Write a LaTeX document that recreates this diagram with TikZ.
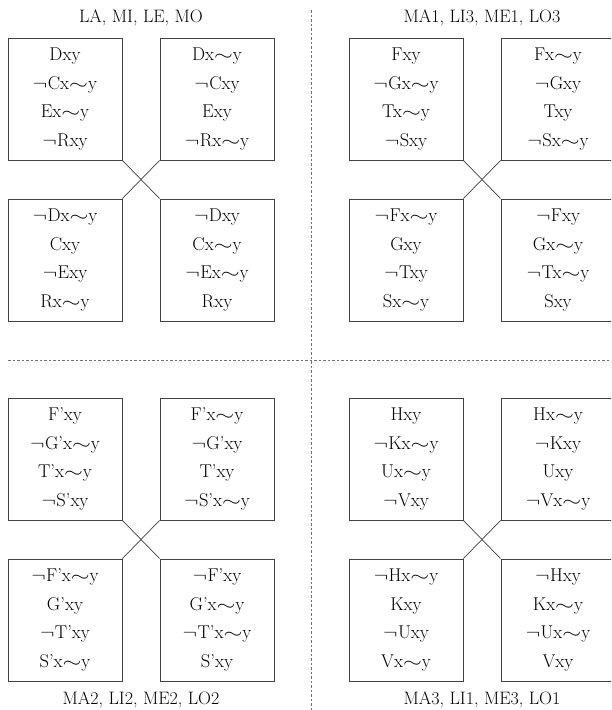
\documentclass[tikz,border=0pt]{standalone}
\usepackage{tikz}
\usepackage{graphicx}
\newcommand\mysim{\scalebox{1.4}[1]{$\sim$}}
\newcommand\mynot{\scalebox{1.25}[1]{$\neg$}\kern0.5pt}
\begin{document}
\begin{tikzpicture}[x=1pt,y=-1pt,
  cell/.style={draw=black!75,line width=0.8pt,minimum width=114pt,minimum height=122pt,inner sep=0pt,
    align=center,font=\fontsize{18.5}{28.5}\selectfont},
  ttl/.style={font=\fontsize{18}{22}\selectfont,inner sep=0pt},
  crossline/.style={draw=black!75,line width=0.7pt},
  sep/.style={draw=black!55,line width=0.8pt,dash pattern=on 2.5pt off 2pt}]
\clip (0,0) rectangle (611,710);
\fill[white] (0,0) rectangle (611,710);
% separators
\coordinate (vt) at (311,10);
\coordinate (vb) at (311,710);
\coordinate (hl) at (8,360);
\coordinate (hr) at (609,360);
\draw[sep] (vt) -- (vb);
\draw[sep] (hl) -- (hr);
% ---------- quadrant 1 ----------
\node[ttl] (t1) at (141,18) {LA, MI, LE, MO};
\node[cell] (a1) at (65,99) {Dxy\\\mynot Cx\mysim y\\Ex\mysim y\\\mynot Rxy};
\node[cell] (b1) at (217,99) {Dx\mysim y\\\mynot Cxy\\Exy\\\mynot Rx\mysim y};
\node[cell] (c1) at (65,260) {\mynot Dx\mysim y\\Cxy\\\mynot Exy\\Rx\mysim y};
\node[cell] (d1) at (217,260) {\mynot Dxy\\Cx\mysim y\\\mynot Ex\mysim y\\Rxy};
\draw[crossline] (a1.south east) -- (d1.north west);
\draw[crossline] (b1.south west) -- (c1.north east);
% ---------- quadrant 2 ----------
\node[ttl] (t2) at (482,18) {MA1, LI3, ME1, LO3};
\node[cell] (a2) at (406,99) {Fxy\\\mynot Gx\mysim y\\Tx\mysim y\\\mynot Sxy};
\node[cell] (b2) at (558,99) {Fx\mysim y\\\mynot Gxy\\Txy\\\mynot Sx\mysim y};
\node[cell] (c2) at (406,260) {\mynot Fx\mysim y\\Gxy\\\mynot Txy\\Sx\mysim y};
\node[cell] (d2) at (558,260) {\mynot Fxy\\Gx\mysim y\\\mynot Tx\mysim y\\Sxy};
\draw[crossline] (a2.south east) -- (d2.north west);
\draw[crossline] (b2.south west) -- (c2.north east);
% ---------- quadrant 3 ----------
\node[cell] (a3) at (65,459) {F'xy\\\mynot G'x\mysim y\\T'x\mysim y\\\mynot S'xy};
\node[cell] (b3) at (217,459) {F'x\mysim y\\\mynot G'xy\\T'xy\\\mynot S'x\mysim y};
\node[cell] (c3) at (65,620) {\mynot F'x\mysim y\\G'xy\\\mynot T'xy\\S'x\mysim y};
\node[cell] (d3) at (217,620) {\mynot F'xy\\G'x\mysim y\\\mynot T'x\mysim y\\S'xy};
\draw[crossline] (a3.south east) -- (d3.north west);
\draw[crossline] (b3.south west) -- (c3.north east);
\node[ttl] (t3) at (141,700) {MA2, LI2, ME2, LO2};
% ---------- quadrant 4 ----------
\node[cell] (a4) at (406,459) {Hxy\\\mynot Kx\mysim y\\Ux\mysim y\\\mynot Vxy};
\node[cell] (b4) at (558,459) {Hx\mysim y\\\mynot Kxy\\Uxy\\\mynot Vx\mysim y};
\node[cell] (c4) at (406,620) {\mynot Hx\mysim y\\Kxy\\\mynot Uxy\\Vx\mysim y};
\node[cell] (d4) at (558,620) {\mynot Hxy\\Kx\mysim y\\\mynot Ux\mysim y\\Vxy};
\draw[crossline] (a4.south east) -- (d4.north west);
\draw[crossline] (b4.south west) -- (c4.north east);
\node[ttl] (t4) at (482,700) {MA3, LI1, ME3, LO1};
\end{tikzpicture}
\end{document}
